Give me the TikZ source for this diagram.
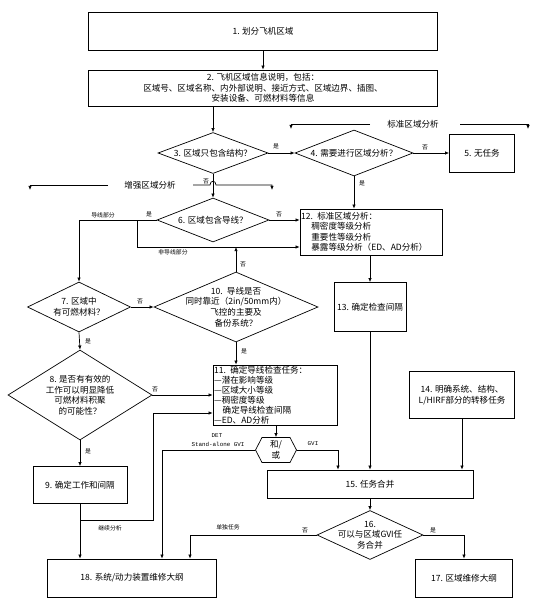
\documentclass[tikz,border=0pt]{standalone}
\usepackage{fontspec}
\setmainfont{Noto Sans CJK SC}
\newfontfamily\monof{Liberation Mono}
\usetikzlibrary{shapes.geometric,shapes.symbols,arrows.meta}

\begin{document}
\begin{tikzpicture}[x=0.03cm,y=-0.03cm,line width=0.6pt,
  every node/.style={font=\fontsize{7.3}{9}\selectfont,align=center},
  box/.style={draw,inner sep=1pt},
  dia/.style={draw,diamond,inner sep=0pt,shape aspect=1},
  hexa/.style={draw,signal,signal to=west and east,signal pointer angle=125,inner sep=0pt},
  lab/.style={font=\fontsize{5}{6}\selectfont,inner sep=0pt},
  mono/.style={font=\monof\fontsize{5}{6}\selectfont,inner sep=0pt},
  arr/.style={-{Latex[length=3.5pt,width=3pt]}}]
\useasboundingbox (0,0) rectangle (533,600);

\node[box,minimum width=10.47cm,minimum height=1.14cm] (b1) at (263,31) {1. 划分飞机区域};
\node[box,minimum width=10.47cm,minimum height=1.08cm] (b2) at (263,88) {2. 飞机区域信息说明，包括：\\区域号、区域名称、内外部说明、接近方式、区域边界、插图、\\安装设备、可燃材料等信息};

\node[dia,minimum width=3.3cm,minimum height=1.23cm] (d3) at (213,153) {};
\node (t3) at (d3) {3. 区域只包含结构？};
\node[dia,minimum width=3.54cm,minimum height=1.38cm] (d4) at (354,153) {};
\node (t4) at (d4) {4. 需要进行区域分析？};
\node[box,minimum width=1.95cm,minimum height=1.14cm] (b5) at (482,153) {5. 无任务};

\node[dia,minimum width=3.36cm,minimum height=1.32cm] (d6) at (213,220) {};
\node (t6) at (d6) {6. 区域包含导线？};
\node[box,align=left,text width=4.19cm,minimum height=1.38cm] (b12) at (371,232) {12. 标准区域分析：\\\hspace*{1.2em}稠密度等级分析\\\hspace*{1.2em}重要性等级分析\\\hspace*{1.2em}暴露等级分析（ED、AD分析）};

\node[dia,minimum width=3.09cm,minimum height=1.5cm] (d7) at (79,307) {};
\node (t7) at (d7) {7. 区域中\\有可燃材料？};
\node[dia,minimum width=4.92cm,minimum height=2.1cm] (d10) at (236,307) {};
\node (t10) at (d10) {10.\enspace 导线是否\\同时靠近（2in/50mm内）\\飞控的主要及\\备份系统？};
\node[box,minimum width=2.16cm,minimum height=1.47cm] (b13) at (370,307) {13. 确定检查间隔};

\node[dia,minimum width=4.32cm,minimum height=2.7cm] (d8) at (80,395) {};
\node (t8) at (d8) {8. 是否有有效的\\工作可以明显降低\\可燃材料积聚\\的可能性？};
\node[box,align=left,text width=3.65cm,minimum height=1.8cm,font=\fontsize{7.3}{8.5}\selectfont] (b11) at (275,395) {11. 确定导线检查任务：\\—潜在影响等级\\—区域大小等级\\—稠密度等级\\\hspace*{1em}确定导线检查间隔\\—ED、AD分析};
\node[box,minimum width=3.15cm,minimum height=1.41cm] (b14) at (462,395) {14. 明确系统、结构、\\L/HIRF部分的转移任务};

\node[hexa,minimum width=1.23cm,minimum height=0.75cm] (hx) at (276,450) {和/\\或};
\node[box,minimum width=2.82cm,minimum height=1.11cm] (b9) at (80,485) {9. 确定工作和间隔};
\node[box,minimum width=6.18cm,minimum height=0.84cm] (b15) at (370,484) {15. 任务合并};
\node[dia,minimum width=3.18cm,minimum height=1.47cm] (d16) at (370,535) {};
\node (t16) at (d16) {16.\\可以与区域GVI任\\务合并};
\node[box,minimum width=5.07cm,minimum height=1.14cm] (b18) at (132,578) {18. 系统/动力装置维修大纲};
\node[box,minimum width=2.91cm,minimum height=1.14cm] (b17) at (464,578) {17. 区域维修大纲};

% section marks
\node (tsa) at (413,124) {标准区域分析};
\coordinate (s1) at (291,124);
\coordinate (s2) at (370,124);
\coordinate (s3) at (460,124);
\coordinate (s4) at (528,124);
\draw[arr] (s2) -- (s1) -- ++(0,5);
\draw[arr] (s3) -- (s4) -- ++(0,5);
\node (tea) at (150,185) {增强区域分析};
\coordinate (e1) at (30,185);
\coordinate (e2) at (108,185);
\coordinate (e3) at (193,185);
\coordinate (e4) at (272,185);
\draw[arr] (e2) -- (e1) -- ++(0,5);
\draw[arr] (e3) -- (210,185) .. controls (210,180) and (216,180) .. (216,185) -- (e4) -- ++(0,5);

% connectors
\draw[arr] (b1) -- (b2);
\draw[arr] (d3.north |- b2.south) -- (d3.north);
\draw[arr] (d3.east) -- (d4.west);
\draw[arr] (d4.east) -- (b5.west);
\draw[arr] (d4.south) -- (d4.south |- b12.north);
\draw[arr] (d3.south) -- (d6.north);
\draw[arr] (d6.east) -- (d6.east -| b12.west);
\draw[arr] (d6.west) -| (d7.north);
\coordinate (k6a) at (137,220);
\coordinate (k6b) at (137,247);
\draw[arr] (k6a) -- (k6b) -- (k6b -| b12.west);
\draw[arr] (d10.north) -- (d10.north |- k6b);
\draw[arr] (d7.east) -- (d10.west);
\draw[arr] (d7.south) -- (d8.north);
\draw[arr] (d8.east) -- (d8.east -| b11.west);
\draw[arr] (d10.south) -- (d10.south |- b11.north);
\draw[arr] (b13.north |- b12.south) -- (b13.north);
\draw[arr] (d8.south) -- (b9.north);
\draw[arr] (b9.south) -- (b9.south |- b18.north);
\coordinate (k9a) at (80,520);
\coordinate (k9b) at (153,520);
\coordinate (k9c) at (153,413);
\draw[arr] (k9a) -- (k9b) -- (k9c) -- (k9c -| b11.west);
\draw[arr] (hx.north |- b11.south) -- (hx.north);
\coordinate (kl) at (162,450);
\coordinate (kr) at (338,450);
\draw[arr] (hx.west) -- (kl) -- (kl |- b18.north);
\draw[arr] (hx.east) -- (kr) -- (kr |- b15.north);
\draw[arr] (b13.south) -- (b13.south |- b15.north);
\draw[arr] (b14.south) -- (b14.south |- b15.north);
\draw[arr] (b15.south) -- (d16.north);
\coordinate (k16) at (190,535);
\draw[arr] (d16.west) -- (k16) -- (k16 |- b18.north);
\draw[arr] (d16.east) -| (b17.north);

% labels
\node[lab] (l34) at (276,146) {是};
\node[lab] (l45) at (425,147) {否};
\node[lab] (l412) at (362,183) {是};
\node[lab] (l36) at (206,181) {否};
\node[lab] (l6n) at (279,214) {否};
\node[lab] (l6y) at (149,214) {是};
\node[lab] (ldx) at (103,215) {导线部分};
\node[lab] (lfdx) at (173,252) {非导线部分};
\node[lab] (l10n) at (243,264) {否};
\node[lab] (l7n) at (140,301) {否};
\node[lab] (l7y) at (88,341) {是};
\node[lab] (l10y) at (244,351) {是};
\node[lab] (l8n) at (155,389) {否};
\node[lab] (l8y) at (88,451) {是};
\node[lab] (ljx) at (110,528) {继续分析};
\node[mono] (ldet) at (217,436) {DET};
\node[mono] (lsa) at (218,444) {Stand-alone GVI};
\node[mono] (lgvi) at (313,444) {GVI};
\node[lab] (ldd) at (228,527) {单独任务};
\node[lab] (l16n) at (305,530) {否};
\node[lab] (l16y) at (433,530) {是};
\end{tikzpicture}
\end{document}
